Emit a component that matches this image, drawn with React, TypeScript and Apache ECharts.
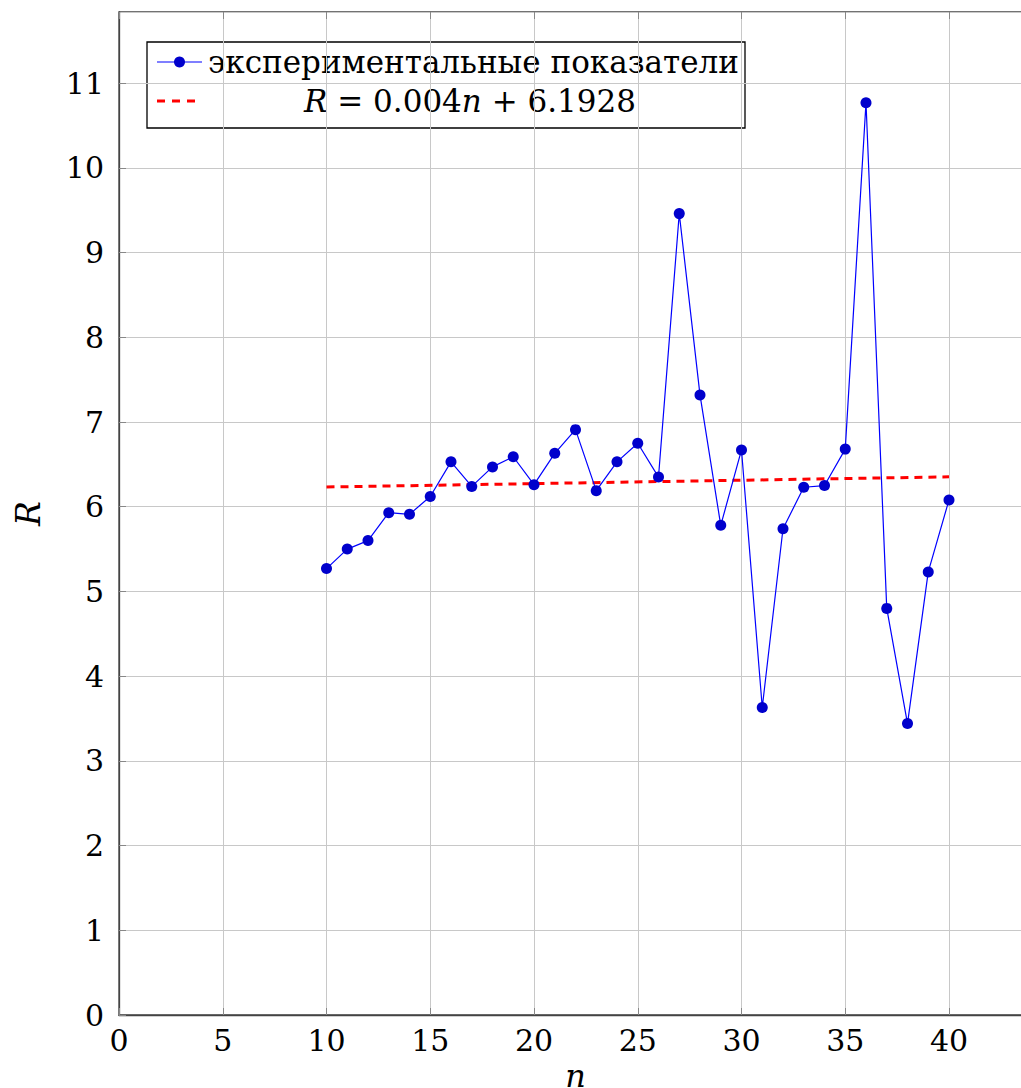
import React, { useEffect, useRef } from "react";
import * as echarts from "echarts";

// Measured values R for each n
const nValues = [
  10, 11, 12, 13, 14, 15, 16, 17, 18, 19, 20, 21, 22, 23, 24, 25,
  26, 27, 28, 29, 30, 31, 32, 33, 34, 35, 36, 37, 38, 39, 40,
];
const rValues = [
  5.27, 5.5, 5.6, 5.93, 5.91, 6.12, 6.53, 6.24, 6.47, 6.59, 6.26, 6.63, 6.91,
  6.19, 6.53, 6.75, 6.35, 9.46, 7.32, 5.78, 6.67, 3.63, 5.74, 6.23, 6.25,
  6.68, 10.77, 4.8, 3.44, 5.23, 6.08,
];

// Linear fit R = a*n + b
const fitSlope = 0.004;
const fitIntercept = 6.1928;
const fitRange = [10, 40];

const xTicks = [0, 5, 10, 15, 20, 25, 30, 35, 40];
const yTicks = [0, 1, 2, 3, 4, 5, 6, 7, 8, 9, 10, 11];

const legendMain = "экспериментальные показатели";

const FONT = "DejaVu Serif";
const TICK_FONT = 30;
const LEGEND_FONT = 31;

export default function App() {
  const ref = useRef<HTMLDivElement>(null);

  useEffect(() => {
    if (!ref.current) return;
    const chart = echarts.init(ref.current, null, { renderer: "svg" });

    const measured = nValues.map((n, i) => [n, rValues[i]]);
    const fitted = fitRange.map((n) => [n, fitSlope * n + fitIntercept]);

    const tickStyle = {
      show: true,
      inside: true,
      length: 7,
      lineStyle: { color: "#888", width: 1 },
    };

    chart.setOption({
      animation: false,
      backgroundColor: "#fff",
      grid: {
        left: 119,
        top: 12,
        width: 913,
        bottom: 73,
        containLabel: false,
        outerBoundsMode: "none",
        show: true,
        borderColor: "#444",
        borderWidth: 1.3,
        backgroundColor: "transparent",
      },
      xAxis: [
        {
          type: "value",
          min: 0,
          max: 44,
          interval: 5,
          name: "n",
          nameLocation: "middle",
          nameGap: 42,
          nameTextStyle: {
            fontFamily: FONT,
            fontStyle: "italic",
            fontSize: 32,
            lineHeight: 24,
            color: "#000",
          },
          axisLine: { show: true, lineStyle: { color: "#444", width: 1.3 } },
          axisTick: tickStyle,
          axisLabel: {
            show: true,
            fontFamily: FONT,
            fontSize: TICK_FONT,
            color: "#000",
            margin: 10,
            showMaxLabel: false,
            formatter: (v: number) => (xTicks.includes(v) ? String(v) : ""),
          },
          splitLine: { show: true, lineStyle: { color: "#c8c8c8", width: 1 } },
        },
        {
          type: "value",
          position: "top",
          min: 0,
          max: 44,
          interval: 5,
          axisLine: { show: false },
          axisTick: tickStyle,
          axisLabel: { show: false },
          splitLine: { show: false },
        },
      ],
      yAxis: {
        type: "value",
        min: 0,
        max: 11.84,
        interval: 1,
        name: "R",
        nameLocation: "middle",
        nameRotate: 90,
        nameGap: 74,
        nameTextStyle: {
          fontFamily: FONT,
          fontStyle: "italic",
          fontSize: 33,
          color: "#000",
        },
        axisLine: { show: true, lineStyle: { color: "#444", width: 1.3 } },
        axisTick: tickStyle,
        axisLabel: {
          fontFamily: FONT,
          fontSize: TICK_FONT,
          color: "#000",
          margin: 15,
          showMaxLabel: false,
          formatter: (v: number) => (yTicks.includes(v) ? String(v) : ""),
        },
        splitLine: { show: true, lineStyle: { color: "#c8c8c8", width: 1 } },
      },
      series: [
        {
          name: legendMain,
          type: "line",
          data: measured,
          symbol: "circle",
          symbolSize: 11,
          lineStyle: { color: "#0000ff", width: 1.2 },
          itemStyle: { color: "#0000cc" },
          z: 3,
        },
        {
          name: "fit",
          type: "line",
          data: fitted,
          symbol: "none",
          lineStyle: { color: "#ff0000", width: 3, type: [8, 6] },
          z: 2,
        },
      ],
      graphic: [
        {
          type: "group",
          z: 100,
          children: [
            {
              type: "rect",
              shape: { x: 147, y: 42, width: 598, height: 86 },
              style: { fill: "#fff", stroke: "#000", lineWidth: 1.3 },
            },
            {
              type: "line",
              shape: { x1: 157, y1: 62, x2: 202, y2: 62 },
              style: { stroke: "#0000ff", lineWidth: 1.2 },
            },
            {
              type: "circle",
              shape: { cx: 179.5, cy: 62, r: 5.5 },
              style: { fill: "#0000cc" },
            },
            {
              type: "text",
              x: 208,
              y: 62,
              style: {
                text: legendMain,
                fontFamily: FONT,
                fontSize: LEGEND_FONT,
                fill: "#000",
                verticalAlign: "middle",
                align: "left",
              },
            },
            {
              type: "line",
              shape: { x1: 157, y1: 101, x2: 202, y2: 101 },
              style: { stroke: "#ff0000", lineWidth: 3, lineDash: [8, 7] },
            },
            {
              type: "text",
              x: 470,
              y: 101,
              style: {
                text: `{i|R} = ${fitSlope.toFixed(3)}{i|n} + ${fitIntercept}`,
                fontFamily: FONT,
                fontSize: LEGEND_FONT,
                fill: "#000",
                align: "center",
                verticalAlign: "middle",
                rich: {
                  i: {
                    fontFamily: FONT,
                    fontStyle: "italic",
                    fontSize: LEGEND_FONT,
                    fill: "#000",
                  },
                },
              },
            },
          ],
        },
      ],
    });

    return () => chart.dispose();
  }, []);

  return (
    <div
      style={{
        position: "fixed",
        left: 0,
        top: 0,
        width: 1021,
        height: 1088,
        overflow: "hidden",
        background: "#fff",
      }}
    >
      <div ref={ref} style={{ width: 1040, height: 1088 }} />
    </div>
  );
}
